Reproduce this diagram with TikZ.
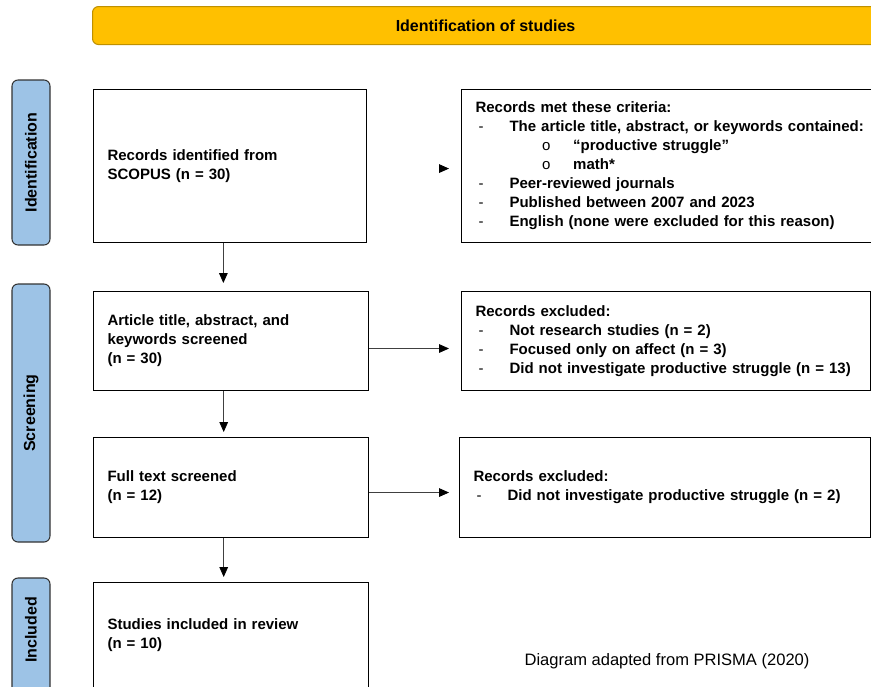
\documentclass[tikz,border=0pt]{standalone}
\usepackage{fontspec}
\setmainfont{Liberation Sans}
\usetikzlibrary{arrows.meta}
\definecolor{barfill}{HTML}{FFC000}
\definecolor{barline}{HTML}{BF9000}
\definecolor{tabfill}{HTML}{9DC3E6}
\newcommand{\dashitem}[1]{\hspace*{2.25pt}\makebox[23.25pt][l]{\mdseries -}#1}
\newcommand{\circitem}[1]{\hspace*{50pt}\makebox[23.25pt][l]{\mdseries o}#1}
\begin{document}
\begin{tikzpicture}[x=0.75pt, y=-0.75pt]
  \tikzset{stepbox/.style={draw=black, line width=0.8pt, anchor=north west, align=left, inner xsep=10.5pt, font=\fontsize{11.25}{14.25}\selectfont\bfseries}}
  \tikzset{tab/.style={draw=black!80, line width=0.8pt, fill=tabfill, rounded corners=4.5pt, rotate=90, minimum height=28.5pt, font=\fontsize{12}{14}\selectfont\bfseries}}
  \tikzset{arr/.style={draw=black!75, line width=0.6pt, -{Triangle[length=7.5pt, width=6.5pt, black]}}}
  \clip (0,0) rectangle (871,686);
  % header
  \node[draw=barline, line width=0.8pt, fill=barfill, rounded corners=4.5pt, anchor=north west, minimum width=589.5pt, minimum height=28.5pt, font=\fontsize{12}{14}\selectfont\bfseries] (head) at (92,6) {Identification of studies};
  % phases
  \node[tab, minimum width=123.75pt] (tabId) at (31,162.5) {Identification};
  \node[tab, minimum width=193.5pt] (tabScr) at (31,413) {Screening};
  \node[tab, minimum width=106.5pt] (tabInc) at (31,649) {};
  \node[font=\fontsize{12}{14}\selectfont\bfseries, rotate=90] (lblInc) at (31,630) {Included};
  % main steps
  \node[stepbox, text width=183.75pt, minimum height=114.75pt] (rec) at (93,89) {Records identified from\\SCOPUS (n = 30)};
  \node[stepbox, text width=185.25pt, minimum height=74.25pt] (scr) at (93,291) {Article title, abstract, and\\keywords screened\\(n = 30)};
  \node[stepbox, text width=185.25pt, minimum height=75pt] (full) at (93,437) {Full text screened\\(n = 12)};
  \node[stepbox, text width=185.25pt, minimum height=78.75pt] (incl) at (93,582) {Studies included in review\\(n = 10)};
  % side boxes
  \node[stepbox, text width=300pt, minimum height=114.75pt] (crit) at (461,89) {Records met these criteria:\\
    \dashitem{The article title, abstract, or keywords contained:}\\
    \circitem{“productive struggle”}\\
    \circitem{math*}\\
    \dashitem{Peer-reviewed journals}\\
    \dashitem{Published between 2007 and 2023}\\
    \dashitem{English (none were excluded for this reason)}};
  \node[stepbox, text width=285.75pt, minimum height=74.25pt] (exc1) at (461,291) {Records excluded:\\
    \dashitem{Not research studies (n = 2)}\\
    \dashitem{Focused only on affect (n = 3)}\\
    \dashitem{Did not investigate productive struggle (n = 13)}};
  \node[stepbox, text width=287.25pt, minimum height=75pt] (exc2) at (459,437) {Records excluded:\\
    \dashitem{Did not investigate productive struggle (n = 2)}};
  % links
  \draw[arr, shorten >=6pt] ([xshift=-5pt]rec.south) -- ([xshift=-5pt]rec.south |- scr.north);
  \draw[arr, shorten >=3.75pt] ([xshift=-5.5pt]scr.south) -- ([xshift=-5.5pt]scr.south |- full.north);
  \draw[arr, shorten >=3.75pt] ([xshift=-5.5pt]full.south) -- ([xshift=-5.5pt]full.south |- incl.north);
  \draw[arr, draw=white, shorten <=1pt, shorten >=9pt] ([yshift=-1.9pt]rec.east) -- ([yshift=-1.9pt]rec.east -| crit.west);
  \draw[arr, shorten >=9pt] ([yshift=-5.6pt]scr.east) -- ([yshift=-5.6pt]scr.east -| exc1.west);
  \draw[arr, shorten >=7.5pt] ([yshift=-3.75pt]full.east) -- ([yshift=-3.75pt]full.east -| exc2.west);
  % source
  \node[font=\fontsize{12.4}{14}\selectfont] (src) at (667,661) {Diagram adapted from PRISMA (2020)};
\end{tikzpicture}
\end{document}
